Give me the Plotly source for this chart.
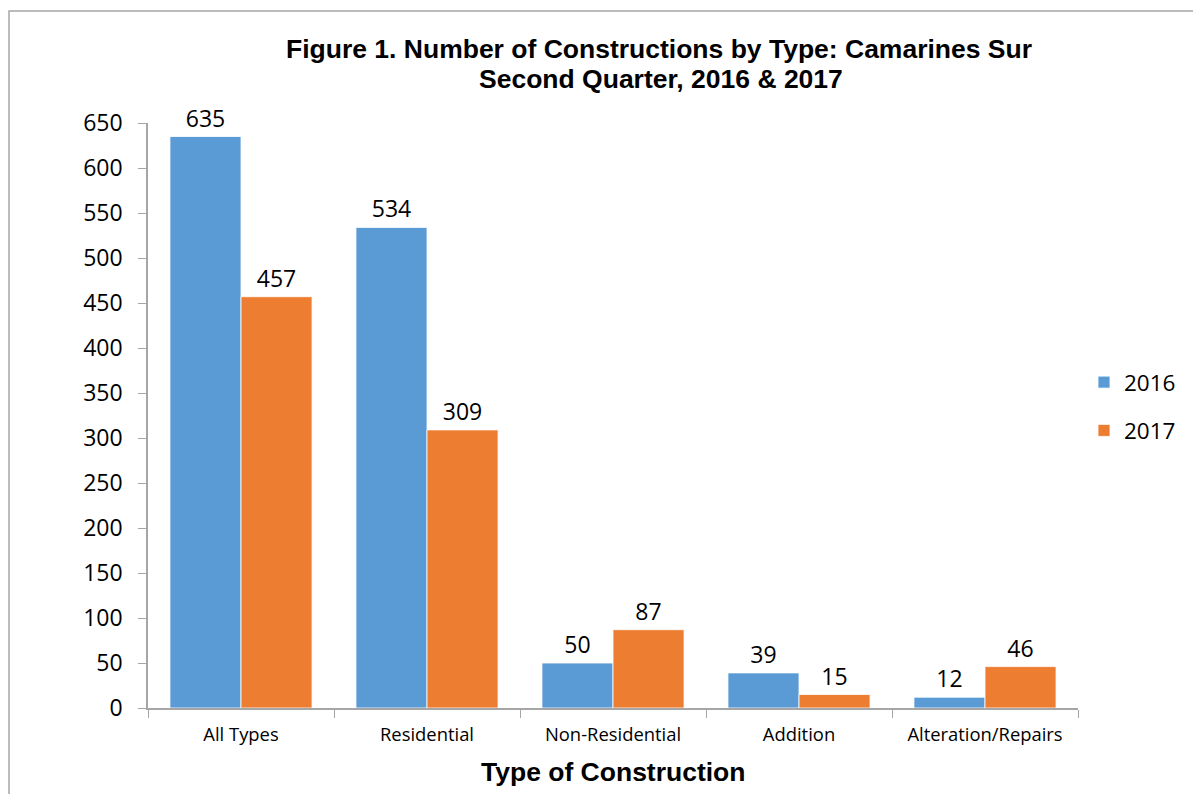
import plotly.graph_objects as go

categories = ["All Types", "Residential", "Non-Residential", "Addition", "Alteration/Repairs"]
values_2016 = [635, 534, 50, 39, 12]
values_2017 = [457, 309, 87, 15, 46]
y_ticks = list(range(0, 651, 50))

W, H = 1193, 794
L, R, T, B = 148, 1078, 123, 708
pw, ph = R - L, B - T

def px_x(x):
    return (x - L) / pw

def px_y(y):
    return (B - y) / ph

fig = go.Figure()
fig.add_trace(go.Bar(
    x=categories, y=values_2016, name="2016", legendgroup="a",
    marker=dict(color="#5B9BD5", line=dict(color="white", width=0.8)),
    text=[str(v) for v in values_2016], textposition="outside",
    textfont=dict(family="Open Sans", size=23, color="black"), cliponaxis=False,
))
fig.add_trace(go.Bar(
    x=categories, y=values_2017, name="2017", legendgroup="b",
    marker=dict(color="#ED7D31", line=dict(color="white", width=0.8)),
    text=[str(v) for v in values_2017], textposition="outside",
    textfont=dict(family="Open Sans", size=23, color="black"), cliponaxis=False,
))

fig.update_layout(
    width=W, height=H,
    margin=dict(l=L, r=W - R, t=T, b=H - B, pad=0, autoexpand=False),
    paper_bgcolor="white", plot_bgcolor="white",
    barmode="group", bargap=0.236, bargroupgap=0,
    font=dict(family="Open Sans", color="black"),
    showlegend=True,
    legend=dict(
        x=px_x(1084), y=px_y(361), xanchor="left", yanchor="top",
        font=dict(family="Open Sans", size=22.5, color="black"),
        traceorder="grouped", tracegroupgap=16,
        itemwidth=30, bgcolor="rgba(0,0,0,0)",
    ),
    xaxis=dict(
        type="category", tickson="boundaries", ticks="outside", ticklen=8,
        tickcolor="#a6a6a6", showline=True, linecolor="#a6a6a6", linewidth=1.5,
        tickfont=dict(family="Open Sans", size=18.4, color="black"),
        showgrid=False, zeroline=False, ticklabelstandoff=9, automargin=False,
    ),
    yaxis=dict(
        range=[0, 650], tickvals=y_ticks, ticks="outside", ticklen=8,
        tickcolor="#a6a6a6", showline=True, linecolor="#a6a6a6", linewidth=1.5,
        tickfont=dict(family="Open Sans", size=23, color="black"),
        showgrid=False, zeroline=False, ticklabelstandoff=11, automargin=False,
    ),
)

fig.add_annotation(
    text="<b>Figure 1. Number of Constructions by Type: Camarines Sur</b>",
    xref="paper", yref="paper", x=px_x(659), y=px_y(49),
    xanchor="center", yanchor="middle", showarrow=False,
    font=dict(family="Liberation Sans, Arial", size=26.5, color="black"),
)
fig.add_annotation(
    text="<b>Second Quarter, 2016 &amp; 2017</b>",
    xref="paper", yref="paper", x=px_x(661), y=px_y(79),
    xanchor="center", yanchor="middle", showarrow=False,
    font=dict(family="Liberation Sans, Arial", size=26.5, color="black"),
)
fig.add_annotation(
    text="<b>Type of Construction</b>",
    xref="paper", yref="paper", x=px_x(613), y=px_y(772),
    xanchor="center", yanchor="middle", showarrow=False,
    font=dict(family="Liberation Sans, Arial", size=26.5, color="black"),
)
fig.add_shape(
    type="rect", xref="paper", yref="paper",
    x0=px_x(9), x1=px_x(1210), y0=px_y(810), y1=px_y(11),
    line=dict(color="#a6a6a6", width=1.5), fillcolor="rgba(0,0,0,0)", layer="below",
)

fig.write_html("out.html")
